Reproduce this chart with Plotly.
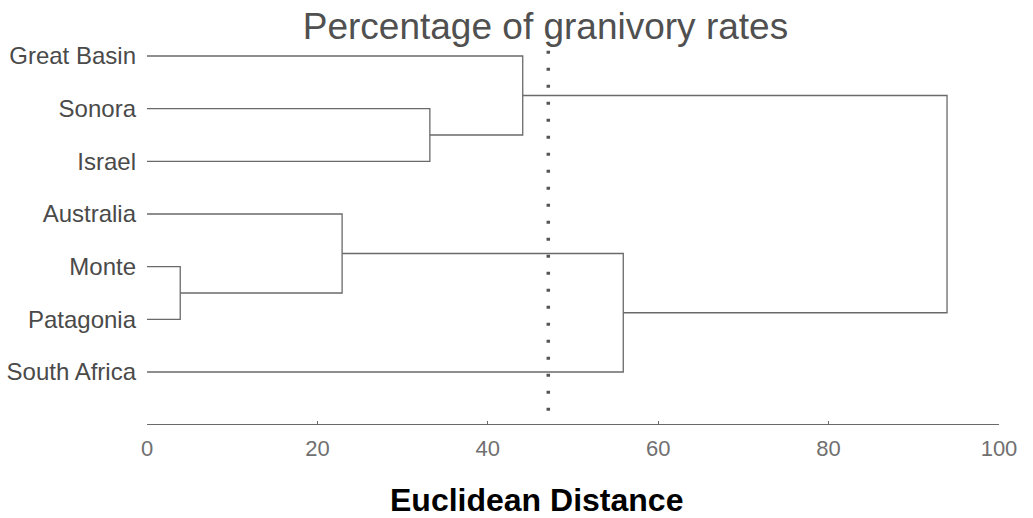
import plotly.graph_objects as go

# ---- data ----
leaves = ["Great Basin", "Sonora", "Israel", "Australia", "Monte", "Patagonia", "South Africa"]
# merges: (left child, right child, distance); children are leaf names or cluster ids "c0".."c5"
merge_left = ["Monte", "Sonora", "Australia", "Great Basin", "c2", "c3"]
merge_right = ["Patagonia", "Israel", "c0", "c1", "South Africa", "c4"]
merge_dist = [3.9, 33.2, 22.9, 44.1, 55.9, 93.9]
cutoff = 47.1
x_ticks = [0, 20, 40, 60, 80, 100]

# ---- build dendrogram segments ----
pos = {name: (0.0, float(i)) for i, name in enumerate(leaves)}
xs, ys = [], []
for k, (a, b, d) in enumerate(zip(merge_left, merge_right, merge_dist)):
    xa, ya = pos[a]
    xb, yb = pos[b]
    xs += [xa, d, d, xb, None]
    ys += [ya, ya, yb, yb, None]
    pos["c%d" % k] = (d, (ya + yb) / 2)

line_col = "#6a6a6a"
FONT = "Liberation Sans, Arial, sans-serif"
fig = go.Figure()
fig.add_trace(go.Scatter(x=xs, y=ys, mode="lines",
                         line=dict(color=line_col, width=1.3),
                         hoverinfo="skip", showlegend=False))
fig.add_trace(go.Scatter(x=[cutoff, cutoff], y=[-0.1, 6.75], mode="lines",
                         line=dict(color="#555555", width=3.5, dash="3px,14px"),
                         hoverinfo="skip", showlegend=False))

fig.update_layout(
    width=1033, height=518,
    margin=dict(l=147, r=34, t=40, b=94),
    paper_bgcolor="white", plot_bgcolor="white",
    font=dict(family=FONT),
    title=dict(text="Percentage of granivory rates", x=0.4677, xanchor="center",
               xref="paper", y=0.95, yref="container", yanchor="middle",
               font=dict(size=37, color="#505050", family=FONT)),
    xaxis=dict(range=[0, 100], tickvals=x_ticks, showgrid=False, zeroline=False,
               showline=True, linecolor=line_col, linewidth=1.3, automargin=False,
               ticks="inside", ticklen=3, tickcolor=line_col,
               tickfont=dict(size=22, color="#707070", family=FONT), ticklabelstandoff=4),
    yaxis=dict(range=[6.987, -0.304], tickvals=list(range(len(leaves))), ticktext=leaves,
               showgrid=False, zeroline=False, showline=False, ticks="", automargin=False,
               tickfont=dict(size=24, color="#4a4a4a", family=FONT), ticklabelstandoff=10),
)
fig.add_annotation(text="<b>Euclidean Distance</b>", x=45.7, xref="x", y=-0.198, yref="paper",
                   xanchor="center", yanchor="middle", showarrow=False,
                   font=dict(size=32, color="black", family=FONT))

fig.write_html("out.html")
